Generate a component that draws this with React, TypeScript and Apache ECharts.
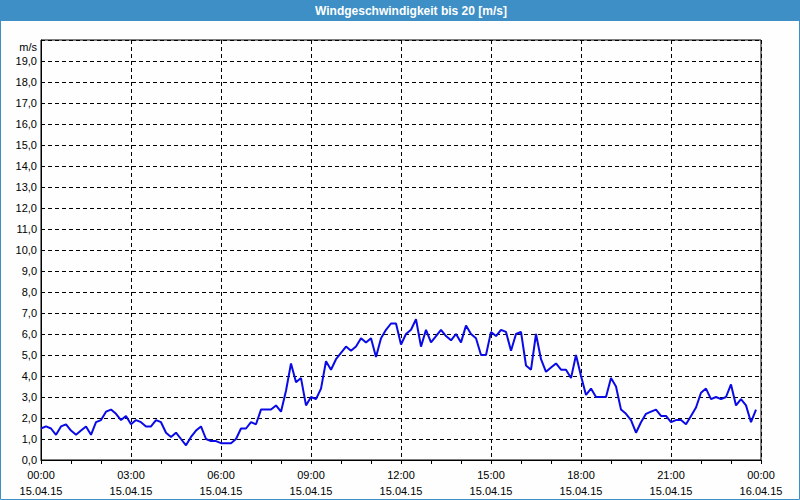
import React, { useEffect, useRef } from "react";
import * as echarts from "echarts";

const titleText = "Windgeschwindigkeit bis 20 [m/s]";
const unitLabel = "m/s";
const startDate = "15.04.15";
const endDate = "16.04.15";
const stepMinutes = 10;

const windSpeed = [
  1.5, 1.6, 1.5, 1.2, 1.6, 1.7, 1.4, 1.2, 1.4, 1.6,
  1.2, 1.8, 1.9, 2.3, 2.4, 2.2, 1.9, 2.1, 1.7, 1.9,
  1.8, 1.6, 1.6, 1.9, 1.8, 1.3, 1.1, 1.3, 1.0, 0.7,
  1.1, 1.4, 1.6, 1.0, 0.9, 0.9, 0.8, 0.8, 0.8, 1.0,
  1.5, 1.5, 1.8, 1.7, 2.4, 2.4, 2.4, 2.6, 2.3, 3.3,
  4.6, 3.7, 3.9, 2.6, 3.0, 2.9, 3.4, 4.7, 4.3, 4.8,
  5.1, 5.4, 5.2, 5.4, 5.8, 5.6, 5.8, 4.9, 5.8, 6.2,
  6.5, 6.5, 5.5, 6.0, 6.2, 6.7, 5.4, 6.2, 5.6, 5.9,
  6.2, 5.9, 5.7, 6.0, 5.6, 6.4, 6.0, 5.8, 5.0, 5.0,
  6.1, 5.9, 6.2, 6.1, 5.2, 6.0, 6.1, 4.5, 4.3, 6.0,
  4.8, 4.2, 4.4, 4.6, 4.3, 4.3, 3.9, 5.0, 4.0, 3.1,
  3.4, 3.0, 3.0, 3.0, 3.9, 3.5, 2.4, 2.2, 1.9, 1.3,
  1.8, 2.2, 2.3, 2.4, 2.1, 2.1, 1.8, 1.9, 1.9, 1.7,
  2.1, 2.5, 3.2, 3.4, 2.9, 3.0, 2.9, 3.0, 3.6, 2.6,
  2.9, 2.6, 1.8, 2.4,
];

const FONT = "'Liberation Sans', Arial, sans-serif";

export default function App() {
  const ref = useRef<HTMLDivElement>(null);

  useEffect(() => {
    if (!ref.current) return;
    const chart = echarts.init(ref.current, null, { renderer: "svg" });
    const data = windSpeed.map((v, i) => [i * stepMinutes, v]);
    const pad = (n: number) => (n < 10 ? "0" + n : "" + n);

    chart.setOption({
      animation: false,
      backgroundColor: "#fdfefd",
      graphic: [
        {
          type: "rect",
          shape: { x: 0, y: 0, width: 800, height: 21 },
          style: { fill: "#3d8fc6" },
          silent: true,
        },
        {
          type: "rect",
          shape: { x: 0.5, y: 0.5, width: 799, height: 499 },
          style: { fill: "none", stroke: "#3d8fc6", lineWidth: 1 },
          silent: true,
        },
        {
          type: "text",
          x: 411,
          y: 11,
          style: {
            text: titleText,
            fill: "#ffffff",
            font: "bold 12px " + FONT,
            textAlign: "center",
            textVerticalAlign: "middle",
          },
          silent: true,
        },
        {
          type: "text",
          x: 37,
          y: 47,
          style: {
            text: unitLabel,
            fill: "#000000",
            font: "11px " + FONT,
            textAlign: "right",
            textVerticalAlign: "middle",
          },
          silent: true,
        },
      ],
      grid: {
        left: 41,
        top: 40,
        width: 720,
        height: 420,
        show: true,
        borderColor: "#000000",
        borderWidth: 1,
        backgroundColor: "transparent",
      },
      xAxis: {
        type: "value",
        min: 0,
        max: 1440,
        interval: 180,
        axisLine: { show: true, onZero: false, lineStyle: { color: "#000000", width: 1 } },
        axisTick: { show: true, length: 4, inside: false, lineStyle: { color: "#000000" } },
        minorTick: { show: true, splitNumber: 3, length: 4, lineStyle: { color: "#000000" } },
        splitLine: { show: true, lineStyle: { color: "#000000", type: [4, 3], width: 1 } },
        axisLabel: {
          color: "#000000",
          fontFamily: FONT,
          fontSize: 11,
          lineHeight: 16,
          margin: 7,
          showMinLabel: true,
          showMaxLabel: true,
          formatter: (v: number) => {
            const h = Math.floor(v / 60) % 24;
            const m = v % 60;
            const d = v >= 1440 ? endDate : startDate;
            return pad(h) + ":" + pad(m) + "\n" + d;
          },
        },
      },
      yAxis: {
        type: "value",
        min: 0,
        max: 20,
        interval: 1,
        axisLine: { show: true, lineStyle: { color: "#000000", width: 1 } },
        axisTick: { show: false },
        splitLine: { show: true, lineStyle: { color: "#000000", type: [4, 3], width: 1 } },
        axisLabel: {
          color: "#000000",
          fontFamily: FONT,
          fontSize: 11,
          margin: 4,
          formatter: (v: number) => (v >= 20 ? "" : v.toFixed(1).replace(".", ",")),
        },
      },
      series: [
        {
          type: "line",
          data,
          showSymbol: false,
          symbol: "none",
          lineStyle: { color: "#0a0ae6", width: 2 },
          itemStyle: { color: "#0a0ae6" },
          z: 5,
        },
      ],
    });

    return () => chart.dispose();
  }, []);

  return (
    <div
      ref={ref}
      style={{ position: "fixed", left: 0, top: 0, width: 800, height: 500 }}
    />
  );
}
